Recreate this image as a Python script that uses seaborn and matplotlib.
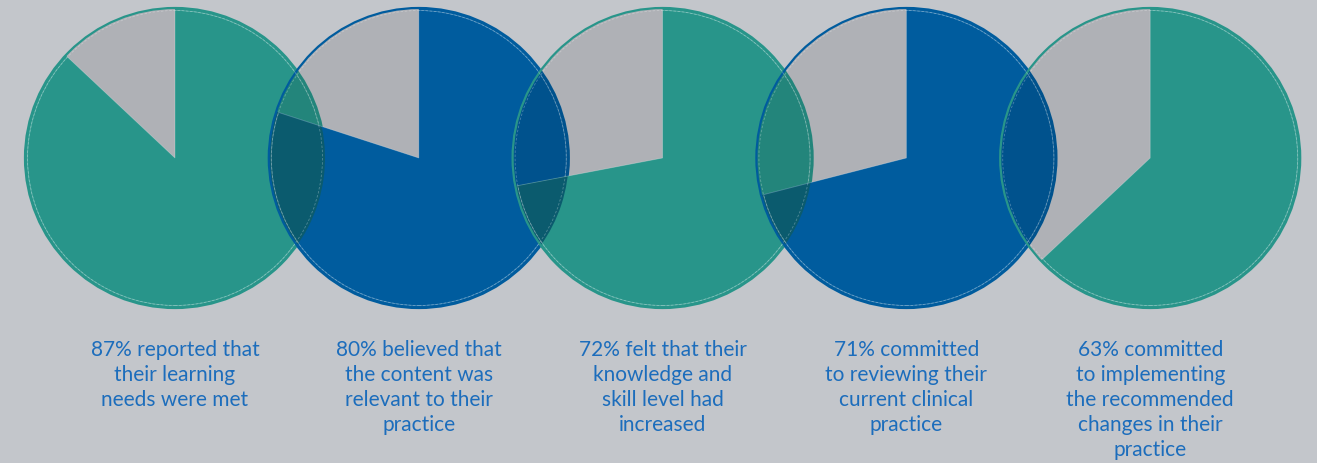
import matplotlib
matplotlib.use("Agg")
import matplotlib.pyplot as plt
from matplotlib.patches import Wedge, Circle
import seaborn as sns

# ---- data ----
percentages = [87, 80, 72, 71, 63]
labels = [
    ["87% reported that", "their learning", "needs were met"],
    ["80% believed that", "the content was", "relevant to their", "practice"],
    ["72% felt that their", "knowledge and", "skill level had", "increased"],
    ["71% committed", "to reviewing their", "current clinical", "practice"],
    ["63% committed", "to implementing", "the recommended", "changes in their", "practice"],
]

# ---- style ----
colors = ["#28958A", "#005C9E", "#28958A", "#005C9E", "#28958A"]
overlap_color = "#0B5B6E"
bg = "#C3C6CB"
text_color = "#1C6DBC"

sns.set_theme(style="white")
plt.rcParams['font.family'] = ['Lato', 'DejaVu Sans']

W, H = 1317, 464
fig = plt.figure(figsize=(W / 100, H / 100), dpi=100)
fig.patch.set_facecolor(bg)
ax = fig.add_axes([0, 0, 1, 1])
ax.set_facecolor(bg)

first_cx, step, R = 175, 243.8, 150
cy = H - 159
prev_filled = None
outlines = []
for i, (p, c) in enumerate(zip(percentages, colors)):
    cx = first_cx + i * step
    wedges, _ = ax.pie([p, 100 - p], colors=[c, "black"], startangle=90,
                       counterclock=False, center=(cx, cy), radius=R,
                       frame=True, wedgeprops=dict(linewidth=0))
    wedges[1].set_alpha(0.1)
    filled = wedges[0]
    if prev_filled is not None:
        ov = Wedge(filled.center, filled.r, filled.theta1, filled.theta2,
                   facecolor=overlap_color, linewidth=0)
        ax.add_patch(ov)
        ov.set_clip_path(prev_filled)
    # faint light line along the radial edges
    ax.add_patch(Wedge(filled.center, filled.r - 2.5, filled.theta1, filled.theta2,
                       fill=False, edgecolor="white", alpha=0.25, linewidth=0.6))
    ax.add_patch(Circle((cx, cy), R, fill=False, edgecolor=c, linewidth=1.6))
    outlines.append((cx, cy))
    prev_filled = filled

for (cx, cy_) in outlines:
    ax.add_patch(Circle((cx, cy_), R - 2.5, fill=False, edgecolor="white",
                        alpha=0.28, linewidth=0.6, linestyle=(0, (3, 2)), zorder=5))

line_gap = 25
for i, lines in enumerate(labels):
    cx = first_cx + i * step
    for j, line in enumerate(lines):
        ax.text(cx, H - 356 - j * line_gap, line, ha="center", va="baseline",
                fontsize=15, color=text_color)

ax.set_xlim(0, W)
ax.set_ylim(0, H)
ax.set_aspect("equal")
ax.axis("off")
fig.savefig("out.png", dpi=100, facecolor=bg)
